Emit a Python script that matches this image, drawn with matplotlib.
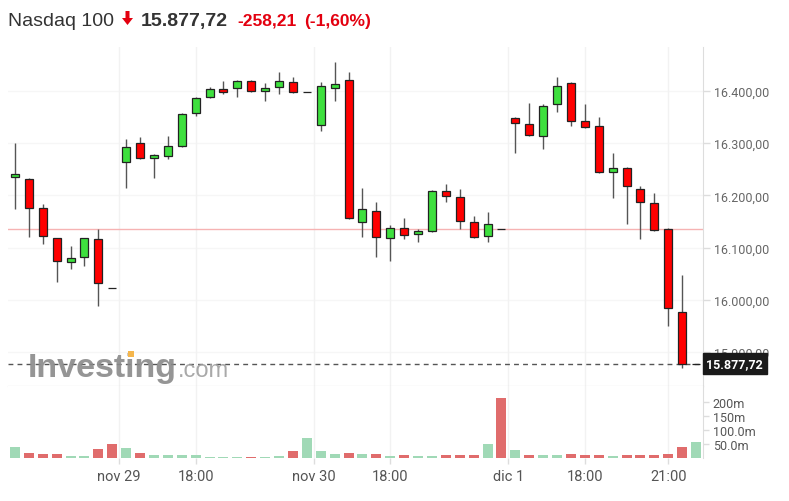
import matplotlib.pyplot as plt
from matplotlib.patches import Polygon, Rectangle

plt.rcParams['font.family'] = ['Roboto', 'DejaVu Sans']

# 30-minute candles, Nasdaq 100
opens = [16235, 16231, 16176, 16118, 16072, 16082, 16116, 16023, 16264, 16300,
         16272, 16275, 16295, 16358, 16389, 16404, 16406, 16419, 16400, 16408,
         16417, 16398, 16335, 16406, 16421, 16149, 16170, 16118, 16138, 16126,
         16132, 16208, 16197, 16149, 16122, 16136, 16348, 16337, 16314, 16375,
         16415, 16343, 16333, 16245, 16252, 16212, 16185, 16136, 15977, 15877.72]
highs = [16300, 16233, 16184, 16118, 16103, 16118, 16136, 16023, 16308, 16312,
         16279, 16314, 16358, 16389, 16408, 16419, 16420, 16421, 16415, 16436,
         16427, 16398, 16417, 16455, 16436, 16214, 16187, 16143, 16157, 16136,
         16210, 16222, 16212, 16161, 16168, 16136, 16350, 16377, 16375, 16427,
         16417, 16375, 16350, 16281, 16254, 16218, 16205, 16138, 16048, 15877.72]
lows = [16174, 16120, 16107, 16034, 16059, 16065, 15988, 16023, 16214, 16270,
        16233, 16270, 16293, 16352, 16387, 16394, 16389, 16398, 16381, 16394,
        16396, 16398, 16323, 16381, 16155, 16120, 16082, 16074, 16116, 16111,
        16130, 16187, 16136, 16118, 16111, 16136, 16281, 16314, 16289, 16360,
        16333, 16329, 16243, 16195, 16145, 16116, 16132, 15950, 15870, 15877.72]
closes = [16241, 16176, 16122, 16074, 16080, 16118, 16032, 16023, 16293, 16272,
          16277, 16295, 16356, 16387, 16404, 16398, 16419, 16400, 16406, 16419,
          16398, 16398, 16410, 16413, 16157, 16174, 16120, 16138, 16124, 16132,
          16208, 16199, 16151, 16120, 16145, 16136, 16339, 16316, 16371, 16410,
          16343, 16331, 16245, 16252, 16218, 16187, 16134, 15984, 15877.72, 15877.72]

# volume in millions and bar colour flag (1 = up)
volumes = [39, 18, 14, 14, 8, 8, 32, 50, 36, 18,
           9, 9, 9, 9, 2, 2, 2, 3, 2, 8,
           25, 71, 25, 13, 18, 13, 13, 8, 9, 8,
           8, 9, 9, 9, 50, 214, 29, 11, 9, 11,
           13, 9, 9, 8, 9, 9, 9, 13, 39, 57]
vol_up = [1, 0, 0, 0, 1, 1, 0, 0, 1, 0,
          1, 1, 1, 1, 1, 1, 1, 0, 1, 1,
          0, 1, 1, 1, 0, 1, 0, 1, 0, 1,
          1, 0, 0, 0, 1, 0, 1, 0, 1, 1,
          0, 0, 0, 1, 0, 0, 0, 0, 0, 1]

prev_close = 16135.93
last_price = 15877.72

x_tick_pos = [7.5, 13, 21.5, 27, 35.5, 41, 47]
x_tick_labels = ['nov 29', '18:00', 'nov 30', '18:00', 'dic 1', '18:00', '21:00']
price_ticks = [15900, 16000, 16100, 16200, 16300, 16400]
vol_ticks = [50, 100, 150, 200]
vol_tick_labels = ['50.0m', '100.0m', '150m', '200m']

W, H = 789, 502
fig = plt.figure(figsize=(W / 100, H / 100), dpi=100)
fig.patch.set_facecolor('white')


def fx(px):
    return px / W


def fy(py):
    return 1 - py / H


ax = fig.add_axes([fx(8), fy(387), fx(703) - fx(8), fy(48) - fy(387)])
axv = fig.add_axes([fx(8), fy(459), fx(703) - fx(8), fy(387) - fy(459)], sharex=ax)

idx = list(range(len(opens)))
up_col, dn_col = '#3ee03e', '#ff0000'
body_bottom = [min(o, c) for o, c in zip(opens, closes)]
body_height = [abs(c - o) for o, c in zip(opens, closes)]
body_col = [up_col if c >= o else dn_col for o, c in zip(opens, closes)]

ax.vlines(idx, lows, highs, color='#555555', lw=1, zorder=3)
ax.bar(idx, body_height, bottom=body_bottom, width=0.58, color=body_col,
       edgecolor='#222222', linewidth=0.9, zorder=4)

ax.axhline(prev_close, color='#f6b3b3', lw=1, zorder=2)
ax.axhline(last_price, color='#555555', lw=1, ls=(0, (3.5, 3)), zorder=2)

ax.set_xlim(-0.5, 49.5)
ax.set_ylim(15835, 16484)
ax.yaxis.tick_right()
ax.set_yticks(price_ticks)
ax.set_yticklabels(['{:,.2f}'.format(t).replace(',', 'X').replace('.', ',').replace('X', '.')
                    for t in price_ticks])
ax.tick_params(axis='y', length=5, width=1, color='#dddddd', labelsize=9,
               labelcolor='#666666', pad=3)
ax.tick_params(axis='x', bottom=False, labelbottom=False)
for s in ['top', 'left']:
    ax.spines[s].set_visible(False)
ax.spines['right'].set_color('#dddddd')
ax.spines['bottom'].set_color('#c8c8c8')
for p in price_ticks:
    ax.axhline(p, color='#f6f6f6', lw=1, zorder=0)
for p in x_tick_pos:
    ax.axvline(p, color='#f2f2f2', lw=1, zorder=0)

# last price label box (sits over the 15.900,00 tick label, as on the site)
ax.annotate('15.877,72', xy=(1.0, last_price), xycoords=('axes fraction', 'data'),
            xytext=(2.5, 0), textcoords='offset points', ha='left', va='center',
            color='white', fontsize=9, fontweight='bold', annotation_clip=False,
            bbox=dict(boxstyle='square,pad=0.3', fc='#1a1a1a', ec='#1a1a1a'),
            zorder=10)

# volume pane
vcol = ['#a0d9b6' if u else '#e06c6c' for u in vol_up]
axv.bar(idx, volumes, width=0.72, color=vcol, zorder=3)
axv.set_ylim(0, 257)
axv.yaxis.tick_right()
axv.set_yticks(vol_ticks)
axv.set_yticklabels(vol_tick_labels)
axv.tick_params(axis='y', length=4, width=1, color='#dddddd', labelsize=9,
                labelcolor='#555555', pad=3)
axv.set_xticks(x_tick_pos)
axv.set_xticklabels(x_tick_labels)
axv.tick_params(axis='x', length=4, width=1, color='#dddddd', labelsize=10.5,
                labelcolor='#555555', pad=4)
for s in ['top', 'left', 'bottom']:
    axv.spines[s].set_visible(False)
axv.spines['right'].set_color('#dddddd')
for p in x_tick_pos:
    axv.axvline(p, color='#f2f2f2', lw=1, zorder=0)

# title line
fig.text(fx(8), fy(26), 'Nasdaq 100', family='Liberation Sans', fontsize=14,
         color='#333333', va='baseline')
arrow = [(125.5, 12), (129.5, 12), (129.5, 19), (133, 19), (127.5, 26), (122, 19), (125.5, 19)]
fig.patches.append(Polygon([(fx(a), fy(b)) for a, b in arrow], closed=True,
                           transform=fig.transFigure, fc='#e3000f', ec='none'))
fig.text(fx(141), fy(26), '15.877,72', family='Liberation Sans', fontsize=14,
         fontweight='bold', color='#333333', va='baseline')
fig.text(fx(237), fy(26), '-258,21', family='Liberation Sans', fontsize=12.5,
         fontweight='bold', color='#e3000f', va='baseline')
fig.text(fx(304), fy(26), '(-1,60%)', family='Liberation Sans', fontsize=12.5,
         fontweight='bold', color='#e3000f', va='baseline')

# watermark
fig.text(fx(28), fy(377), 'Investing', family='Liberation Sans', fontsize=24.5,
         fontweight='bold', color='#8a8a8a', alpha=0.9, va='baseline', zorder=5)
fig.text(fx(178), fy(377), '.com', family='Liberation Sans', fontsize=17,
         color='#a0a0a0', alpha=0.9, va='baseline', zorder=5)
fig.patches.append(Rectangle((fx(127.5), fy(358)), fx(6), fy(352) - fy(358),
                             transform=fig.transFigure, fc='#f5b64c', ec='none', zorder=6))

fig.savefig('out.png', dpi=100)
